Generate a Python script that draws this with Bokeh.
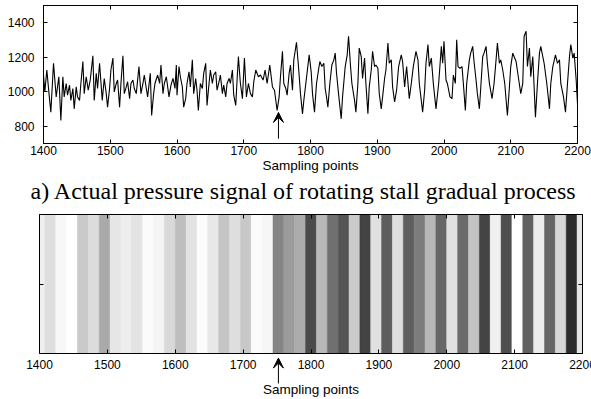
from bokeh.plotting import figure
from bokeh.layouts import column
from bokeh.models import Range1d, LinearAxis, FixedTicker, Arrow, VeeHead, ColumnDataSource, Title
from bokeh.core.properties import value
from bokeh.embed import file_html
from bokeh.resources import INLINE

# ---------------- data ----------------
sampling_points = [
    1400, 1402, 1405, 1408, 1411, 1415, 1419, 1423, 1426, 1429, 1431, 1434, 1436, 1439, 1441, 1444, 1446, 1449,
    1451, 1454, 1456, 1459, 1461, 1464, 1467, 1470, 1474, 1476, 1479, 1481, 1484, 1488, 1491, 1494, 1496, 1499,
    1501, 1504, 1506, 1509, 1511, 1514, 1516, 1519, 1521, 1524, 1526, 1529, 1531, 1534, 1536, 1539, 1543, 1546,
    1549, 1551, 1554, 1556, 1560, 1562, 1565, 1567, 1571, 1574, 1576, 1579, 1581, 1584, 1588, 1591, 1594, 1597,
    1599, 1600, 1603, 1605, 1608, 1610, 1613, 1615, 1618, 1620, 1623, 1625, 1628, 1630, 1632, 1635, 1638, 1640,
    1643, 1645, 1648, 1650, 1653, 1655, 1658, 1660, 1663, 1665, 1668, 1670, 1673, 1675, 1678, 1680, 1683, 1685,
    1688, 1690, 1692, 1694, 1695, 1698, 1701, 1704, 1707, 1710, 1713, 1715, 1718, 1722, 1725, 1729, 1732, 1735,
    1739, 1743, 1746, 1750, 1753, 1755, 1758, 1760, 1763, 1765, 1768, 1770, 1773, 1775, 1779, 1782, 1785, 1788,
    1790, 1793, 1798, 1801, 1803, 1806, 1809, 1812, 1814, 1817, 1820, 1822, 1824, 1826, 1829, 1832, 1835, 1837,
    1839, 1842, 1846, 1848, 1852, 1855, 1857, 1860, 1862, 1866, 1868, 1871, 1873, 1876, 1878, 1881, 1883, 1886,
    1888, 1891, 1893, 1896, 1898, 1901, 1903, 1906, 1908, 1911, 1913, 1916, 1918, 1921, 1923, 1926, 1929, 1932,
    1936, 1938, 1941, 1944, 1948, 1951, 1954, 1958, 1961, 1963, 1968, 1971, 1973, 1976, 1978, 1981, 1984, 1988,
    1992, 1996, 1998, 2000, 2003, 2005, 2009, 2012, 2014, 2017, 2019, 2021, 2024, 2027, 2029, 2032, 2034, 2038,
    2040, 2043, 2045, 2048, 2050, 2053, 2055, 2058, 2060, 2063, 2065, 2068, 2072, 2075, 2078, 2080, 2083, 2085,
    2088, 2091, 2095, 2098, 2100, 2103, 2105, 2108, 2112, 2115, 2118, 2120, 2123, 2125, 2128, 2130, 2133, 2137,
    2140, 2143, 2145, 2148, 2150, 2154, 2158, 2160, 2163, 2167, 2170, 2173, 2175, 2179, 2182, 2185, 2188, 2190,
    2193, 2195, 2198, 2200,
]
pressure = [
    1097, 999, 1126, 999, 882, 1165, 970, 1087, 833, 1087, 970, 1048, 980, 1038, 950, 1019, 901, 1028,
    970, 950, 1048, 1175, 989, 1087, 1009, 1068, 1208, 950, 1107, 1019, 1165, 950, 1077, 989, 911, 1019,
    1126, 1195, 999, 1048, 1068, 911, 1048, 1208, 989, 1028, 1058, 960, 1048, 1068, 1019, 989, 1146, 989,
    1048, 1097, 1019, 970, 1107, 862, 989, 1048, 1097, 1048, 1155, 989, 1048, 1087, 970, 1038, 1077, 1019,
    1155, 980, 1146, 1087, 1028, 911, 960, 1048, 1116, 1028, 1185, 989, 1077, 1009, 892, 1048, 1019, 1107,
    1165, 921, 1048, 1126, 1048, 1097, 1116, 1009, 1058, 1097, 989, 1038, 970, 1048, 1077, 1048, 1126, 980,
    921, 1068, 1204, 1097, 1048, 960, 1195, 970, 1048, 989, 970, 1058, 1126, 1087, 1097, 1068, 1126, 1048,
    1155, 1028, 1009, 892, 970, 1087, 1234, 1048, 1019, 980, 1107, 1155, 1009, 1185, 1287, 1146, 989, 872,
    950, 1048, 1214, 1116, 989, 882, 1048, 1126, 1175, 1146, 1165, 1019, 970, 911, 1048, 1155, 1185, 1224,
    1107, 989, 843, 970, 1146, 1214, 1322, 1146, 1048, 950, 882, 1048, 1253, 1204, 1077, 1195, 1048, 872,
    1028, 1126, 1234, 1146, 1155, 1136, 989, 901, 970, 1077, 1126, 1283, 1165, 1185, 1028, 941, 1009, 1146,
    1214, 1175, 1028, 1146, 960, 1048, 1146, 1234, 1185, 1048, 882, 1009, 1165, 1273, 1146, 1195, 1048, 901,
    1048, 1263, 1165, 1292, 1068, 1048, 970, 960, 1097, 1048, 1302, 1146, 1136, 1146, 1048, 892, 1048, 1185,
    1224, 1263, 1175, 1068, 989, 901, 1019, 1204, 1224, 1263, 1165, 1048, 960, 1048, 1185, 1283, 1165, 1185,
    1126, 1048, 862, 1028, 1146, 1224, 1204, 1175, 1068, 989, 1048, 1322, 1351, 1146, 1253, 1087, 1204, 852,
    1048, 1224, 1263, 1204, 1165, 1048, 901, 1048, 1146, 1214, 1165, 1185, 1048, 970, 882, 1048, 1204, 1273,
    1195, 1224, 1068, 930,
]

# grey-level image row: window centres (sampling points) and intensity (0 = black, 255 = white)
window_centers = [
    1400, 1416, 1432, 1448, 1464, 1480, 1496, 1512, 1528, 1544, 1560, 1576, 1592, 1608, 1624, 1640, 1656,
    1672, 1688, 1704, 1720, 1736, 1752, 1768, 1784, 1800, 1816, 1832, 1848, 1864, 1880, 1896, 1912, 1928,
    1944, 1960, 1976, 1992, 2008, 2024, 2040, 2056, 2072, 2088, 2104, 2120, 2136, 2152, 2168, 2184, 2200,
]
window_intensity = [
    239, 222, 247, 254, 201, 220, 169, 230, 237, 227, 251, 244, 217, 190, 226, 251, 232,
    197, 222, 200, 251, 246, 132, 155, 172, 74, 184, 112, 84, 203, 67, 224, 94, 222,
    95, 124, 183, 102, 224, 106, 195, 68, 240, 78, 255, 98, 236, 102, 214, 44, 230,
]
window_width = 16

x_ticks = [1400, 1500, 1600, 1700, 1800, 1900, 2000, 2100, 2200]
y_ticks = [800, 1000, 1200, 1400]
strip_ticks = [0.5]
stall_onset = 1752
x_label = "Sampling points"
caption = "a) Actual pressure signal of rotating stall gradual process"

SANS = "Liberation Sans"
SERIF = "Liberation Serif"
X0, X1 = 1400, 2200

# layout (pixels)
W = 591
P1_H, P2_H, P3_H = 207, 150, 42
S_LEFT, S_RIGHT = 39, 9          # strip frame margins


def style_axis(ax, ticks, hide=False, standoff=6, label_standoff=2):
    ax.ticker = FixedTicker(ticks=ticks)
    ax.major_tick_in = 4
    ax.major_tick_out = 0
    ax.minor_tick_in = 0
    ax.minor_tick_out = 0
    ax.axis_line_color = "black"
    ax.major_tick_line_color = "black"
    ax.major_label_text_font = SANS
    ax.major_label_text_color = "black"
    if hide:
        ax.major_label_overrides = {t: "" for t in ticks}
        ax.major_label_text_font_size = "2px"
        ax.major_label_standoff = 0
    else:
        ax.major_label_text_font_size = "12px"
        ax.major_label_standoff = standoff
    ax.axis_label_text_font = SANS
    ax.axis_label_text_font_style = "normal"
    ax.axis_label_text_color = "black"
    ax.axis_label_text_font_size = "13.5px"
    ax.axis_label_standoff = label_standoff


def clean(p):
    p.xgrid.grid_line_color = None
    p.ygrid.grid_line_color = None
    p.outline_line_color = "black"
    p.outline_line_alpha = 1


# ---------------- top figure: pressure signal + caption ----------------
p1 = figure(width=W, height=P1_H, x_range=Range1d(X0, X1), y_range=Range1d(700, 1500),
            output_backend="svg", toolbar_location=None, frame_align=False,
            min_border_left=43, min_border_right=14, min_border_top=5, min_border_bottom=64)
p1.line(sampling_points, pressure, line_color="black", line_width=1.1)
p1.xaxis.axis_label = x_label
style_axis(p1.xaxis[0], x_ticks, standoff=2, label_standoff=0)
style_axis(p1.yaxis[0], y_ticks, standoff=9)
ax_top1 = LinearAxis()
ax_right1 = LinearAxis()
style_axis(ax_top1, x_ticks, hide=True)
style_axis(ax_right1, y_ticks, hide=True)
p1.add_layout(ax_top1, "above")
p1.add_layout(ax_right1, "right")
clean(p1)
p1.add_layout(Arrow(end=VeeHead(size=10, fill_color="black", line_color="black", line_width=1),
                    x_start=stall_onset, y_start=728, x_end=stall_onset, y_end=880,
                    line_color="black", line_width=1))
cap = Title(text=caption, align="left", offset=-13, standoff=0,
            text_font=SERIF, text_font_size="24px", text_font_style="normal", text_color="black")
p1.add_layout(cap, "below")

# ---------------- middle figure: grey-level strip ----------------
src = ColumnDataSource(dict(
    left=[c - window_width / 2 for c in window_centers],
    right=[c + window_width / 2 for c in window_centers],
    color=["#%02x%02x%02x" % (g, g, g) for g in window_intensity],
))
p2 = figure(width=W, height=P2_H, x_range=Range1d(X0, X1), y_range=Range1d(0, 1),
            output_backend="svg", toolbar_location=None, frame_align=False,
            min_border_left=S_LEFT, min_border_right=S_RIGHT, min_border_top=7, min_border_bottom=4)
p2.quad(left="left", right="right", bottom=0, top=1, fill_color="color", line_color="color",
        line_width=0.5, source=src)
style_axis(p2.xaxis[0], x_ticks, hide=True)
style_axis(p2.yaxis[0], strip_ticks, hide=True)
ax_top2 = LinearAxis()
ax_right2 = LinearAxis()
style_axis(ax_top2, x_ticks, hide=True)
style_axis(ax_right2, strip_ticks, hide=True)
p2.add_layout(ax_top2, "above")
p2.add_layout(ax_right2, "right")
clean(p2)

# ---------------- bottom strip: tick labels, onset arrow, axis title ----------------
spp = (X1 - X0) / (W - S_LEFT - S_RIGHT)   # sampling points per pixel of the strip
p3 = figure(width=W, height=P3_H, x_range=Range1d(X0 - S_LEFT * spp, X1 + S_RIGHT * spp),
            y_range=Range1d(P3_H, 0), output_backend="svg", toolbar_location=None,
            x_axis_type=None, y_axis_type=None, frame_align=False,
            min_border_left=0, min_border_right=0, min_border_top=0, min_border_bottom=0)
p3.xgrid.grid_line_color = None
p3.ygrid.grid_line_color = None
p3.outline_line_color = None
p3.text(x=x_ticks, y=6.5, text=[str(t) for t in x_ticks], text_align="center",
        text_baseline="middle", text_font=value(SANS), text_font_size="12px", text_color="black")
p3.text(x=[(X0 + X1) / 2], y=31.5, text=[x_label], text_align="center",
        text_baseline="middle", text_font=value(SANS), text_font_size="13.5px", text_color="black")
p3.add_layout(Arrow(end=VeeHead(size=10, fill_color="black", line_color="black", line_width=1),
                    x_start=stall_onset, y_start=26, x_end=stall_onset, y_end=0.6,
                    line_color="black", line_width=1))

layout = column(p1, p2, p3, spacing=0)
open("out.html", "w").write(file_html(layout, INLINE))
